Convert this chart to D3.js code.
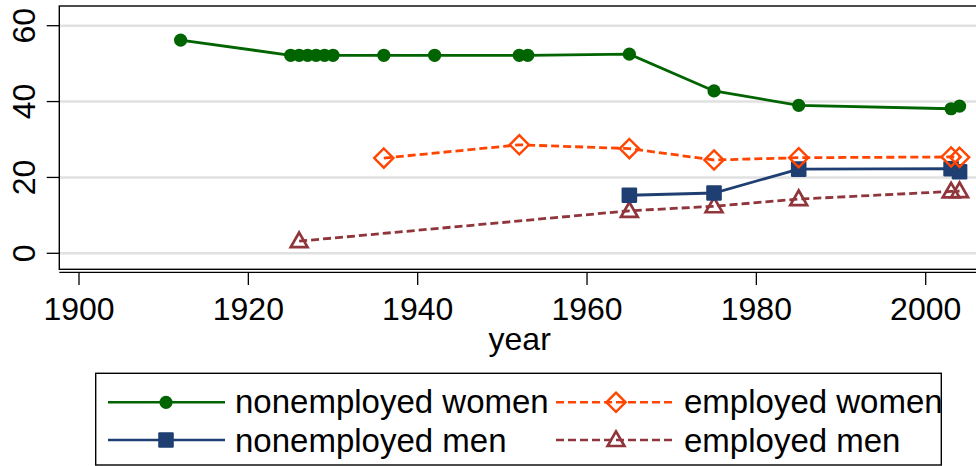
<!DOCTYPE html>
<html>
<head>
<meta charset="utf-8">
<script src="https://cdn.jsdelivr.net/npm/d3@7"></script>
<style>
  body { margin: 0; background: #fff; }
  svg { display: block; font-family: "Liberation Sans", Arial, sans-serif; }
</style>
</head>
<body>
<div id="chart"></div>
<script>
// data
var nwYears = [1912, 1925, 1926, 1927, 1928, 1929, 1930, 1936, 1942, 1952, 1953, 1965, 1975, 1985, 2003, 2004];
var nwValues = [56.2, 52.2, 52.2, 52.2, 52.2, 52.2, 52.2, 52.2, 52.2, 52.2, 52.2, 52.5, 42.8, 39.0, 38.1, 38.8];

var ewYears = [1936, 1952, 1965, 1975, 1985, 2003, 2004];
var ewValues = [25.1, 28.6, 27.6, 24.6, 25.2, 25.4, 25.3];

var nmYears = [1965, 1975, 1985, 2003, 2004];
var nmValues = [15.3, 15.9, 22.2, 22.3, 21.5];

var emYears = [1926, 1965, 1975, 1985, 2003, 2004];
var emValues = [3.2, 11.2, 12.4, 14.3, 16.3, 16.4];

var xTicks = [1900, 1920, 1940, 1960, 1980, 2000];
var yTicks = [0, 20, 40, 60];

var seriesNames = ["nonemployed women", "employed women", "nonemployed men", "employed men"];

var W = 976, H = 466;

var svg = d3.select("#chart").append("svg")
    .attr("width", W).attr("height", H);

var x = d3.scaleLinear().domain([1900, 2000]).range([79, 925.7]);
var y = d3.scaleLinear().domain([0, 60]).range([253.3, 25.7]);

var plotLeft = 59.3, plotTop = 6, plotBottom = 269.3, plotRight = 990;

// grid lines
svg.selectAll(".grid").data(yTicks).enter().append("line")
    .attr("x1", plotLeft).attr("x2", plotRight)
    .attr("y1", function (d) { return y(d); })
    .attr("y2", function (d) { return y(d); })
    .attr("stroke", "#e1e1e1").attr("stroke-width", 2.4);

// plot region frame
svg.append("rect")
    .attr("x", plotLeft).attr("y", plotTop)
    .attr("width", plotRight - plotLeft).attr("height", plotBottom - plotTop)
    .attr("fill", "none").attr("stroke", "#000").attr("stroke-width", 1.4);

// x axis line just below the frame
svg.append("line")
    .attr("x1", plotLeft).attr("x2", plotRight)
    .attr("y1", 272.3).attr("y2", 272.3)
    .attr("stroke", "#000").attr("stroke-width", 1.2);

// x ticks
svg.selectAll(".xt").data(xTicks).enter().append("line")
    .attr("x1", function (d) { return x(d); })
    .attr("x2", function (d) { return x(d); })
    .attr("y1", 272.3).attr("y2", 285)
    .attr("stroke", "#000").attr("stroke-width", 1.3);

svg.selectAll(".xl").data(xTicks).enter().append("text")
    .attr("x", function (d) { return x(d); })
    .attr("y", 320)
    .attr("text-anchor", "middle")
    .attr("font-size", 32)
    .text(function (d) { return d; });

svg.append("text")
    .attr("x", 519.7).attr("y", 350)
    .attr("text-anchor", "middle")
    .attr("font-size", 32)
    .text("year");

// y ticks
svg.selectAll(".yt").data(yTicks).enter().append("line")
    .attr("x1", 46.7).attr("x2", plotLeft)
    .attr("y1", function (d) { return y(d); })
    .attr("y2", function (d) { return y(d); })
    .attr("stroke", "#000").attr("stroke-width", 1.3);

svg.selectAll(".yl").data(yTicks).enter().append("text")
    .attr("transform", function (d) { return "translate(35," + y(d) + ") rotate(-90)"; })
    .attr("text-anchor", "middle")
    .attr("font-size", 32)
    .text(function (d) { return d; });

// markers
function drawMarker(g, type, cx, cy, color) {
    if (type === "circle") {
        g.append("circle").attr("cx", cx).attr("cy", cy).attr("r", 6.6).attr("fill", color);
    } else if (type === "square") {
        g.append("rect").attr("x", cx - 7.8).attr("y", cy - 7.8)
            .attr("width", 15.6).attr("height", 15.6).attr("rx", 1.2).attr("fill", color);
    } else if (type === "diamond") {
        g.append("path")
            .attr("d", "M" + cx + "," + (cy - 9.6) + "L" + (cx + 9.6) + "," + cy +
                "L" + cx + "," + (cy + 9.6) + "L" + (cx - 9.6) + "," + cy + "Z")
            .attr("fill", "none").attr("stroke", color).attr("stroke-width", 2.4);
    } else {
        g.append("path")
            .attr("d", "M" + cx + "," + (cy - 8.6) + "L" + (cx + 8.4) + "," + (cy + 6) +
                "L" + (cx - 8.4) + "," + (cy + 6) + "Z")
            .attr("fill", "none").attr("stroke", color).attr("stroke-width", 2.7);
    }
}

var series = [
    { years: nwYears, values: nwValues, color: "#006400", marker: "circle", dash: null },
    { years: ewYears, values: ewValues, color: "#ff4500", marker: "diamond", dash: "8,4" },
    { years: nmYears, values: nmValues, color: "#1f3f73", marker: "square", dash: null },
    { years: emYears, values: emValues, color: "#90353b", marker: "triangle", dash: "8,4" }
];

var line = d3.line()
    .x(function (d) { return x(d[0]); })
    .y(function (d) { return y(d[1]); });

// lines first, markers on top (employed men drawn first so its line sits under)
[3, 2, 1, 0].forEach(function (i) {
    var s = series[i];
    var pts = d3.zip(s.years, s.values);
    svg.append("path")
        .attr("d", line(pts))
        .attr("fill", "none")
        .attr("stroke", s.color)
        .attr("stroke-width", 2.8)
        .attr("stroke-dasharray", s.dash);
});
[3, 2, 1, 0].forEach(function (i) {
    var s = series[i];
    var g = svg.append("g");
    s.years.forEach(function (yr, j) {
        drawMarker(g, s.marker, x(yr), y(s.values[j]), s.color);
    });
});

// legend
var lg = svg.append("g");
svg.append("clipPath").attr("id", "legclip").append("rect")
    .attr("x", 95.7).attr("y", 373.3).attr("width", 845.6).attr("height", 91.7);

var legPos = [
    { x1: 108, x2: 225, mx: 166, tx: 235, ly: 402.3, ty: 413.3 },
    { x1: 556, x2: 672, mx: 616, tx: 684, ly: 402.3, ty: 413.3 },
    { x1: 108, x2: 225, mx: 166, tx: 235, ly: 440, ty: 451.7 },
    { x1: 556, x2: 672, mx: 616, tx: 684, ly: 440, ty: 451.7 }
];

var lgInner = lg.append("g").attr("clip-path", "url(#legclip)");
series.forEach(function (s, i) {
    var p = legPos[i];
    lgInner.append("line")
        .attr("x1", p.x1).attr("x2", p.x2).attr("y1", p.ly).attr("y2", p.ly)
        .attr("stroke", s.color).attr("stroke-width", 2.6)
        .attr("stroke-dasharray", s.dash);
    drawMarker(lgInner, s.marker, p.mx, p.ly, s.color);
    lgInner.append("text")
        .attr("x", p.tx).attr("y", p.ty)
        .attr("font-size", 33)
        .text(seriesNames[i]);
});

lg.append("rect")
    .attr("x", 95.7).attr("y", 373.3).attr("width", 845.6).attr("height", 91.7)
    .attr("fill", "none").attr("stroke", "#000").attr("stroke-width", 1.4);
</script>
</body>
</html>
